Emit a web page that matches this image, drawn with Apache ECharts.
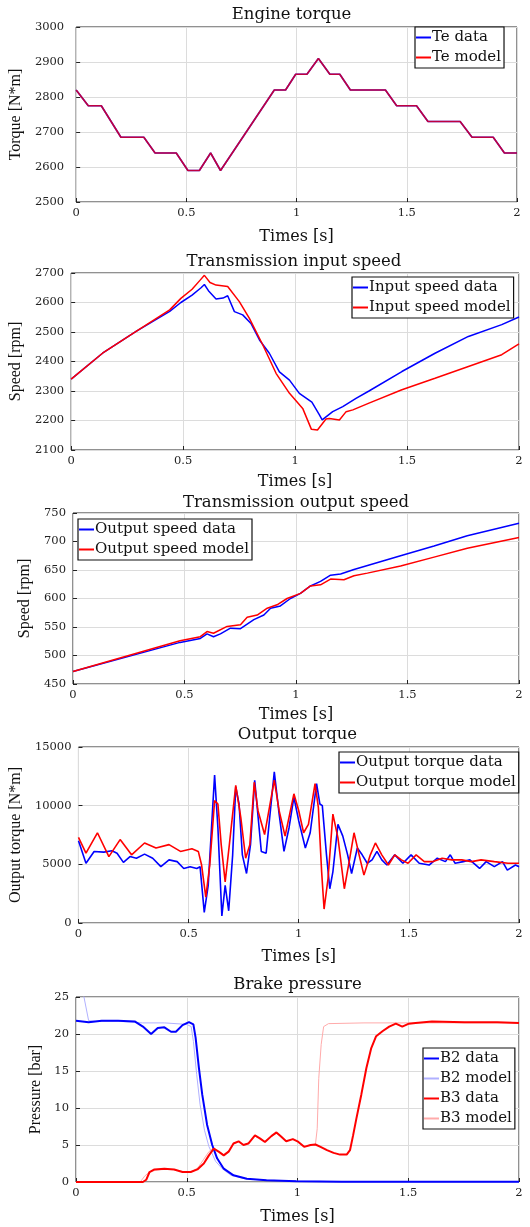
<!DOCTYPE html>
<html><head><meta charset="utf-8">
<script src="https://cdn.jsdelivr.net/npm/echarts@6/dist/echarts.min.js"></script>
<style>html,body{margin:0;padding:0;background:#fff}#c{width:530px;height:1227px}</style>
</head><body><div id="c"></div><script>
// ---------- Data ----------
const xTicks = [0, 0.5, 1, 1.5, 2];

// Panel 1: Engine torque
const teTime  = [0, 0.055, 0.114, 0.203, 0.307, 0.358, 0.454, 0.507, 0.559, 0.61, 0.655, 0.899, 0.95, 0.996, 1.047, 1.099, 1.151, 1.196, 1.244, 1.403, 1.454, 1.544, 1.596, 1.742, 1.796, 1.892, 1.943, 2];
const teData  = [2820, 2775, 2775, 2685, 2685, 2640, 2640, 2590, 2590, 2640, 2590, 2820, 2820, 2865, 2865, 2910, 2865, 2865, 2820, 2820, 2775, 2775, 2730, 2730, 2685, 2685, 2640, 2640];
const teModel = [2820, 2775, 2775, 2685, 2685, 2640, 2640, 2590, 2590, 2640, 2590, 2820, 2820, 2865, 2865, 2910, 2865, 2865, 2820, 2820, 2775, 2775, 2730, 2730, 2685, 2685, 2640, 2640];

// Panel 2: Transmission input speed
const inDataTime = [0, 0.14, 0.29, 0.44, 0.49, 0.54, 0.58, 0.595, 0.613, 0.647, 0.678, 0.699, 0.729, 0.766, 0.803, 0.841, 0.885, 0.93, 0.975, 1.019, 1.075, 1.108, 1.121, 1.168, 1.213, 1.272, 1.33, 1.477, 1.625, 1.774, 1.923, 2];
const inData     = [2340, 2428, 2502, 2570, 2600, 2625, 2650, 2661, 2640, 2612, 2615, 2623, 2569, 2558, 2529, 2473, 2428, 2365, 2337, 2292, 2262, 2220, 2202, 2230, 2247, 2275, 2300, 2366, 2428, 2485, 2525, 2551];
const inModelTime = [0, 0.14, 0.29, 0.44, 0.49, 0.54, 0.575, 0.595, 0.62, 0.647, 0.699, 0.751, 0.796, 0.856, 0.915, 0.975, 1.034, 1.073, 1.1, 1.138, 1.153, 1.198, 1.228, 1.258, 1.33, 1.477, 1.625, 1.774, 1.923, 2];
const inModel     = [2340, 2428, 2502, 2575, 2614, 2645, 2675, 2692, 2668, 2659, 2654, 2603, 2546, 2456, 2360, 2292, 2241, 2170, 2168, 2205, 2207, 2202, 2230, 2236, 2259, 2304, 2343, 2383, 2423, 2460];

// Panel 3: Transmission output speed
const outDataTime = [0, 0.48, 0.571, 0.601, 0.63, 0.661, 0.706, 0.751, 0.811, 0.856, 0.886, 0.93, 0.975, 1.02, 1.065, 1.11, 1.155, 1.2, 1.26, 1.469, 1.619, 1.768, 2];
const outData     = [472, 523, 530, 538, 533, 538, 548, 547, 563, 571, 583, 587, 600, 609, 622, 630, 641, 643, 651, 675, 692, 710, 732];
const outModelTime = [0, 0.48, 0.571, 0.601, 0.63, 0.691, 0.751, 0.781, 0.826, 0.871, 0.915, 0.96, 1.02, 1.065, 1.11, 1.155, 1.215, 1.26, 1.32, 1.469, 1.619, 1.768, 2];
const outModel     = [472, 526, 533, 542, 539, 551, 554, 567, 571, 583, 589, 600, 609, 622, 624, 634, 633, 640, 644.5, 657, 672.6, 688, 707];

// Panel 4: Output torque
const otDataTime = [0, 0.034, 0.071, 0.115, 0.152, 0.175, 0.204, 0.234, 0.263, 0.3, 0.337, 0.374, 0.411, 0.448, 0.478, 0.507, 0.537, 0.552, 0.571, 0.589, 0.604, 0.618, 0.633, 0.651, 0.666, 0.682, 0.7, 0.714, 0.729, 0.744, 0.763, 0.781, 0.8, 0.83, 0.852, 0.889, 0.911, 0.933, 0.956, 0.978, 1.0, 1.03, 1.052, 1.081, 1.096, 1.107, 1.126, 1.141, 1.155, 1.178, 1.2, 1.222, 1.24, 1.266, 1.288, 1.311, 1.333, 1.355, 1.377, 1.4, 1.436, 1.473, 1.51, 1.547, 1.592, 1.629, 1.666, 1.688, 1.71, 1.747, 1.777, 1.821, 1.851, 1.888, 1.925, 1.947, 1.984, 2];
const otData     = [7000, 5090, 6100, 6040, 6160, 5950, 5170, 5660, 5520, 5870, 5520, 4800, 5380, 5230, 4650, 4800, 4650, 4800, 900, 3210, 8120, 12600, 8120, 600, 3210, 1040, 5810, 11590, 10140, 5810, 4220, 6680, 12170, 6100, 5950, 12890, 9280, 6100, 8120, 10720, 8700, 6390, 7690, 11880, 10140, 10000, 5810, 2920, 4360, 8410, 7400, 5810, 4220, 6390, 5810, 5090, 5380, 6100, 5380, 4940, 5810, 5090, 5810, 5090, 4940, 5520, 5230, 5810, 5090, 5230, 5380, 4650, 5230, 4800, 5230, 4510, 4940, 4800];
const otModelTime = [0, 0.034, 0.086, 0.138, 0.189, 0.241, 0.3, 0.352, 0.411, 0.463, 0.515, 0.544, 0.559, 0.578, 0.596, 0.618, 0.633, 0.648, 0.666, 0.685, 0.714, 0.737, 0.759, 0.778, 0.798, 0.815, 0.845, 0.889, 0.911, 0.938, 0.978, 1.0, 1.022, 1.044, 1.074, 1.089, 1.104, 1.115, 1.133, 1.155, 1.178, 1.207, 1.229, 1.251, 1.274, 1.296, 1.325, 1.348, 1.377, 1.407, 1.436, 1.466, 1.496, 1.533, 1.57, 1.607, 1.651, 1.695, 1.74, 1.784, 1.828, 1.888, 1.95, 2];
const otModel     = [7300, 5950, 7690, 5660, 7110, 5810, 6820, 6390, 6680, 6100, 6330, 6100, 4940, 2200, 4940, 10430, 10140, 6680, 3500, 6680, 11730, 8990, 5520, 6680, 12000, 9570, 7540, 12170, 9570, 7400, 11010, 9570, 7690, 8410, 11880, 9860, 4360, 1190, 3790, 9280, 7250, 2920, 5230, 7690, 5810, 4080, 5810, 6820, 5810, 4940, 5810, 5380, 5090, 5810, 5230, 5230, 5520, 5380, 5380, 5230, 5380, 5230, 5090, 5090];

// Panel 5: Brake pressure
const b2DataTime = [0, 0.057, 0.116, 0.19, 0.265, 0.302, 0.339, 0.369, 0.399, 0.429, 0.451, 0.481, 0.51, 0.53, 0.54, 0.555, 0.57, 0.592, 0.615, 0.637, 0.667, 0.711, 0.771, 0.86, 0.994, 1.2, 1.5, 2];
const b2Data     = [21.8, 21.6, 21.8, 21.8, 21.7, 21.0, 20.0, 20.8, 20.9, 20.3, 20.3, 21.2, 21.6, 21.3, 19.5, 15.4, 11.8, 7.7, 5.0, 3.2, 1.8, 0.9, 0.45, 0.23, 0.1, 0.05, 0.03, 0.03];
const b2ModelTime = [0, 0.034, 0.057, 0.1, 0.2, 0.3, 0.4, 0.5, 0.52, 0.53, 0.545, 0.56, 0.58, 0.6, 0.63, 0.66, 0.7, 0.76, 0.85, 1.0, 1.15, 1.25, 1.5, 2];
const b2Model     = [32, 25.3, 21.8, 21.7, 21.7, 21.5, 21.5, 21.3, 21.0, 19.0, 14.5, 10.5, 7.0, 4.8, 2.8, 1.8, 0.9, 0.45, 0.25, 0.12, 0.06, 0.03, 0.02, 0.02];
const b3DataTime = [0, 0.302, 0.317, 0.332, 0.354, 0.399, 0.443, 0.481, 0.518, 0.548, 0.577, 0.6, 0.622, 0.644, 0.667, 0.689, 0.711, 0.734, 0.756, 0.778, 0.808, 0.83, 0.853, 0.882, 0.905, 0.927, 0.949, 0.979, 1.0, 1.03, 1.059, 1.081, 1.104, 1.133, 1.163, 1.192, 1.222, 1.237, 1.251, 1.266, 1.288, 1.311, 1.333, 1.355, 1.385, 1.414, 1.444, 1.473, 1.503, 1.533, 1.607, 1.754, 1.902, 2];
const b3Data     = [0, 0, 0.3, 1.35, 1.7, 1.8, 1.7, 1.35, 1.35, 1.7, 2.5, 3.6, 4.5, 4.1, 3.6, 4.1, 5.2, 5.5, 5.0, 5.2, 6.3, 5.9, 5.4, 6.2, 6.7, 6.1, 5.5, 5.8, 5.5, 4.75, 5.0, 5.07, 4.75, 4.3, 3.94, 3.7, 3.7, 4.3, 6.3, 8.6, 11.8, 15.4, 18.1, 19.7, 20.4, 21.0, 21.4, 21.0, 21.4, 21.5, 21.7, 21.6, 21.6, 21.5];
const b3ModelTime = [0, 0.29, 0.31, 0.33, 0.36, 0.4, 0.44, 0.48, 0.52, 0.55, 0.575, 0.6, 0.622, 0.644, 0.667, 0.689, 0.711, 0.734, 0.756, 0.778, 0.808, 0.83, 0.853, 0.882, 0.905, 0.927, 0.949, 0.979, 1.0, 1.03, 1.059, 1.081, 1.089, 1.096, 1.107, 1.118, 1.14, 1.3, 1.5, 1.7, 2];
const b3Model     = [0, 0, 0.8, 1.3, 1.6, 1.7, 1.7, 1.4, 1.4, 1.9, 3.0, 4.1, 4.6, 4.1, 3.7, 4.2, 5.2, 5.4, 5.0, 5.3, 6.2, 5.9, 5.5, 6.2, 6.6, 6.1, 5.5, 5.8, 5.5, 4.8, 5.0, 5.1, 7.2, 14, 18.6, 21.0, 21.4, 21.5, 21.5, 21.5, 21.5];

const titles = ['Engine torque', 'Transmission input speed', 'Transmission output speed', 'Output torque', 'Brake pressure'];
const yNames = ['Torque [N*m]', 'Speed [rpm]', 'Speed [rpm]', 'Output torque [N*m]', 'Pressure [bar]'];
const xName = 'Times [s]';
const yRanges = [[2500, 3000, 100], [2100, 2700, 100], [450, 750, 50], [0, 15000, 5000], [0, 25, 5]];

// ---------- Layout / style ----------
const FH = 'DejaVu Serif';
const FV = 'Liberation Serif';
const grids = [
  {left: 66, top: 27, width: 451, height: 175},
  {left: 69, top: 273, width: 450, height: 177},
  {left: 73, top: 513, width: 446, height: 171},
  {left: 76, top: 747, width: 443, height: 176},
  {left: 76, top: 997, width: 443, height: 185}
];
const yNameGap = [42, 45, 33, 50, 24];
const yLabelMargin = [12, 7, 7, 7, 7];
const xNameGap = [27, 24, 23, 26, 27];
const titleTop = [6, 253, 494, 726, 976];
const legendPos = [
  {left: 415, top: 27}, {left: 352, top: 277}, {left: 78, top: 519}, {left: 339, top: 752}, {left: 423, top: 1048}
];

const zip = (t, v) => t.map((x, i) => [x, v[i]]);
const BLUE = '#0000ff', RED = '#ff0000', LBLUE = '#b0b0ff', LRED = '#ffaaaa';

function line(name, idx, t, v, color, width, z, opacity) {
  return {
    name, type: 'line', xAxisIndex: idx, yAxisIndex: idx,
    data: zip(t, v), showSymbol: false, symbol: 'none', animation: false,
    lineStyle: {color, width, opacity: opacity == null ? 1 : opacity},
    itemStyle: {color}, z, clip: true
  };
}

const series = [
  line('Te data', 0, teTime, teData, BLUE, 1.6, 2),
  line('Te model', 0, teTime, teModel, RED, 1.6, 3, 0.75),
  line('Input speed data', 1, inDataTime, inData, BLUE, 1.5, 2),
  line('Input speed model', 1, inModelTime, inModel, RED, 1.5, 3),
  line('Output speed data', 2, outDataTime, outData, BLUE, 1.5, 2),
  line('Output speed model', 2, outModelTime, outModel, RED, 1.5, 3),
  line('Output torque data', 3, otDataTime, otData, BLUE, 1.6, 2),
  line('Output torque model', 3, otModelTime, otModel, RED, 1.6, 3),
  line('B2 data', 4, b2DataTime, b2Data, BLUE, 2, 3),
  line('B2 model', 4, b2ModelTime, b2Model, LBLUE, 1, 2),
  line('B3 data', 4, b3DataTime, b3Data, RED, 2, 3),
  line('B3 model', 4, b3ModelTime, b3Model, LRED, 1, 2)
];

const legendNames = [
  ['Te data', 'Te model'],
  ['Input speed data', 'Input speed model'],
  ['Output speed data', 'Output speed model'],
  ['Output torque data', 'Output torque model'],
  ['B2 data', 'B2 model', 'B3 data', 'B3 model']
];

const option = {
  backgroundColor: '#ffffff',
  animation: false,
  title: titles.map((t, i) => ({
    text: t, left: grids[i].left + grids[i].width / 2, top: titleTop[i], textAlign: 'center', padding: 0,
    textStyle: {fontFamily: FH, fontSize: 16.5, fontWeight: 'normal', color: '#111'}
  })),
  grid: grids.map(g => Object.assign({show: true, borderColor: '#222', borderWidth: 1, backgroundColor: '#fff', containLabel: false}, g)),
  legend: legendNames.map((names, i) => ({
    data: names.map(n => ({name: n, icon: 'rect'})),
    orient: 'vertical', left: legendPos[i].left, top: legendPos[i].top,
    itemWidth: 15, itemHeight: 2, itemGap: 1, padding: [1, 3, 1, 1],
    borderColor: '#111', borderWidth: 1.2, backgroundColor: '#fff',
    selectedMode: false, z: 10,
    textStyle: {fontFamily: FH, fontSize: 15, color: '#111', lineHeight: 19, padding: [0, 0, 0, -4]}
  })),
  xAxis: grids.map((g, i) => ({
    type: 'value', gridIndex: i, min: xTicks[0], max: xTicks[xTicks.length - 1], interval: 0.5,
    name: xName, nameLocation: 'middle', nameGap: xNameGap[i],
    nameTextStyle: {fontFamily: FH, fontSize: 16, color: '#111'},
    axisLine: {show: false},
    axisTick: {show: true, inside: true, length: 4, lineStyle: {color: '#222'}},
    axisLabel: {fontFamily: FH, fontSize: 11.5, color: '#222', margin: 5, formatter: v => String(v)},
    splitLine: {show: true, lineStyle: {color: '#dcdcdc', width: 1}}
  })),
  yAxis: yRanges.map((r, i) => ({
    type: 'value', gridIndex: i, min: r[0], max: r[1], interval: r[2],
    name: yNames[i], nameLocation: 'middle', nameGap: yNameGap[i],
    nameTextStyle: {fontFamily: FV, fontSize: 16, color: '#111'},
    axisLine: {show: false},
    axisTick: {show: true, inside: true, length: 4, lineStyle: {color: '#222'}},
    axisLabel: {fontFamily: FH, fontSize: 11.5, color: '#222', margin: yLabelMargin[i], formatter: v => String(v)},
    splitLine: {show: true, lineStyle: {color: '#dcdcdc', width: 1}}
  })),
  series
};

const chart = echarts.init(document.getElementById('c'), null, {renderer: 'canvas'});
chart.setOption(option);
</script></body></html>
